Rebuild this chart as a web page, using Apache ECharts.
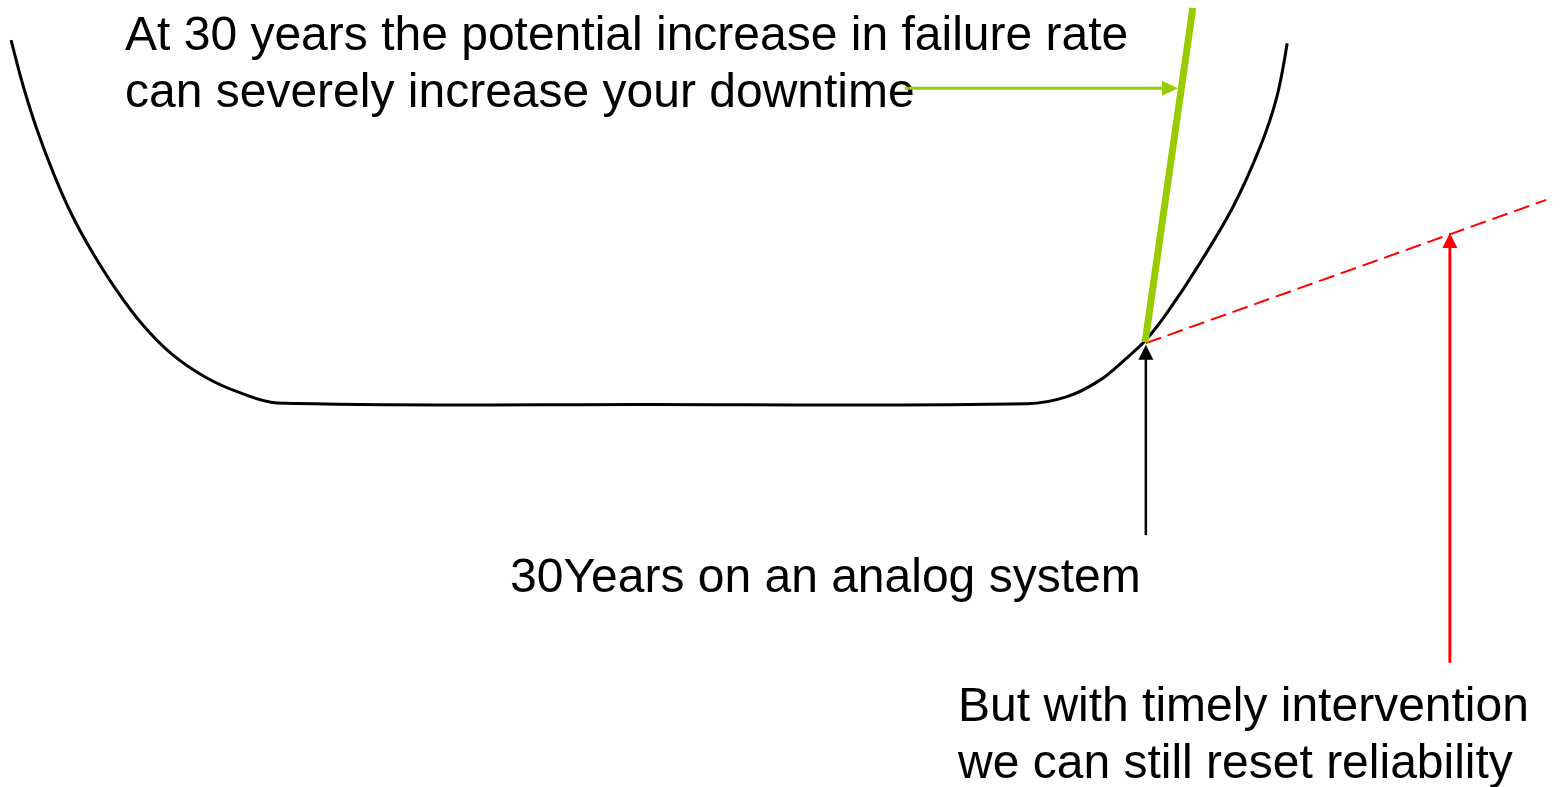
<!DOCTYPE html>
<html>
<head>
<meta charset="utf-8">
<script src="https://cdn.jsdelivr.net/npm/echarts@6/dist/echarts.min.js"></script>
<style>
html,body{margin:0;padding:0;background:#fff;}
#chart{width:1568px;height:787px;}
</style>
</head>
<body>
<div id="chart"></div>
<script>
// x = age in years, y = failure rate (arbitrary units)
var bathtubYears = [0.29,0.60,0.97,1.39,1.86,2.41,3.04,3.74,4.50,5.37,6.28,7.25,17.0,26.89,27.94,28.80,29.45,30.0,30.55,31.42,32.28,32.99,33.43,33.70];
var bathtubRate  = [9.49,8.92,8.35,7.81,7.29,6.80,6.32,5.87,5.50,5.21,5.01,4.88,4.86,4.87,4.96,5.17,5.43,5.68,6.02,6.66,7.37,8.13,8.77,9.45];

var acceleratedYears = [29.98, 31.23];   // green steep line
var acceleratedRate  = [5.65, 9.90];

var resetYears = [30.0, 40.48];          // red dashed line
var resetRate  = [5.64, 7.46];

var greenArrowYears = [23.69, 30.84];
var greenArrowRate  = [8.88, 8.88];

var blackArrowYears = [30.0, 30.0];
var blackArrowRate  = [3.20, 5.62];

var redArrowYears = [37.96, 37.96];
var redArrowRate  = [1.58, 7.04];

var textTop = 'At 30 years the potential increase in failure rate\ncan severely increase your downtime';
var textMid = '30Years on an analog system';
var textBottom = 'But with timely intervention\nwe can still reset reliability';

function zip(xs, ys){ return xs.map(function(x,i){ return [x, ys[i]]; }); }

var chart = echarts.init(document.getElementById('chart'));
var FONT = 'Liberation Sans, Arial, sans-serif';

function pathSeries(xs, ys, color, width, smooth, dash){
  return {
    type: 'custom', coordinateSystem: 'cartesian2d', clip: false, silent: true,
    data: zip(xs, ys), encode: {x: 0, y: 1},
    renderItem: function(params, api){
      if (params.dataIndex !== 0) return null;
      var pts = xs.map(function(x, i){ return api.coord([x, ys[i]]); });
      return {
        type: 'polyline',
        shape: {points: pts, smooth: smooth},
        style: {stroke: color, lineWidth: width, fill: 'none', lineDash: dash || null, lineCap: 'butt', lineJoin: 'round'}
      };
    }
  };
}
function arrowSeries(xs, ys, color, width, headLen, headW){
  return {
    type: 'custom', coordinateSystem: 'cartesian2d', clip: false, silent: true,
    data: zip(xs, ys), encode: {x: 0, y: 1},
    renderItem: function(params, api){
      if (params.dataIndex !== 0) return null;
      var a = api.coord([xs[0], ys[0]]), b = api.coord([xs[1], ys[1]]);
      var dx = b[0] - a[0], dy = b[1] - a[1], L = Math.sqrt(dx*dx + dy*dy);
      var ux = dx / L, uy = dy / L, nx = -uy, ny = ux;
      var base = [b[0] - ux * headLen, b[1] - uy * headLen];
      return {
        type: 'group',
        children: [
          {type: 'line', shape: {x1: a[0], y1: a[1], x2: base[0] + ux, y2: base[1] + uy},
           style: {stroke: color, lineWidth: width, fill: 'none'}},
          {type: 'polygon', shape: {points: [b,
              [base[0] + nx * headW / 2, base[1] + ny * headW / 2],
              [base[0] - nx * headW / 2, base[1] - ny * headW / 2]]},
           style: {fill: color, stroke: 'none'}}
        ]
      };
    }
  };
}

chart.setOption({
  animation: false,
  backgroundColor: '#ffffff',
  grid: {left: 0, right: 2, top: 0, bottom: 0},
  xAxis: {type: 'value', min: 0, max: 41, show: false, splitLine: {show: false}},
  yAxis: {type: 'value', min: 0, max: 10, show: false, splitLine: {show: false}},
  series: [
    pathSeries(bathtubYears, bathtubRate, '#000000', 3, 0.33),
    pathSeries(resetYears, resetRate, '#ff0000', 2, 0, [16, 7]),
    pathSeries(acceleratedYears, acceleratedRate, '#99cc00', 7, 0),
    arrowSeries(greenArrowYears, greenArrowRate, '#99cc00', 3, 16, 15),
    arrowSeries(blackArrowYears, blackArrowRate, '#000000', 2.5, 15, 15),
    arrowSeries(redArrowYears, redArrowRate, '#ff0000', 3, 15, 15)
  ],
  graphic: [
    {type: 'text', left: 125, top: 8, style: {text: textTop, font: '48px ' + FONT, fill: '#000', lineHeight: 57}},
    {type: 'text', left: 510, top: 550, style: {text: textMid, font: '48px ' + FONT, fill: '#000', lineHeight: 57}},
    {type: 'text', left: 958, top: 679, style: {text: textBottom, font: '48px ' + FONT, fill: '#000', lineHeight: 57}}
  ]
});
</script>
</body>
</html>
